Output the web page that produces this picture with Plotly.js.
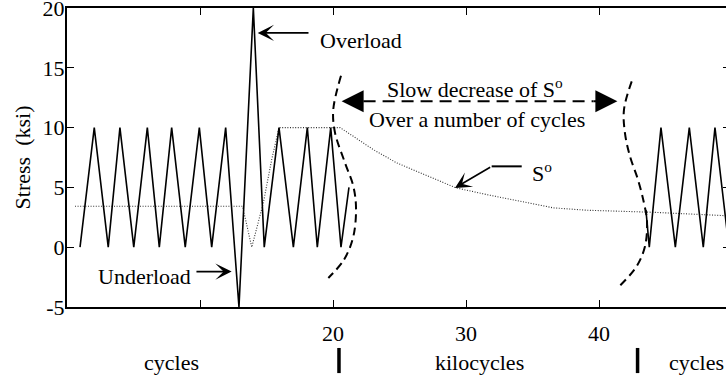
<!DOCTYPE html>
<html>
<head>
<meta charset="utf-8">
<script src="https://cdn.plot.ly/plotly-3.0.1.min.js"></script>
<style>
html, body { margin: 0; padding: 0; overflow: hidden; background: #fff; }
#chart { width: 730px; height: 378px; }
</style>
</head>
<body>
<div id="chart"></div>
<script>
// Stress history (ksi) versus time (cycles / kilocycles)
const loadX = [0.98, 2.05, 3.1, 3.98, 5.02, 6.04, 6.94, 7.87, 8.89, 9.95, 10.88, 11.93, 12.93, 14.01, 14.83, 15.94, 17.02, 18.07, 18.82, 19.83, 20.6, 21.2];
const loadY = [0, 10, 0, 10, 0, 10, 0, 10, 0, 10, 0, 10, -5, 20, 0, 10, 0, 10, 0, 10, 0, 5];

const loadRightX = [43.53, 43.78, 44.66, 45.74, 46.79, 47.84, 48.72, 49.77];
const loadRightY = [3.1, 0, 10, 0, 10, 0, 10, 0];

// Opening stress S°
const openX = [0.6, 13.2, 13.89, 14.76, 15.39, 15.94, 20.0, 20.53, 21.53, 23.03, 24.79, 26.54, 29.25, 31.56, 34.06, 36.56, 39.08, 41.58, 44.08, 49.8];
const openY = [3.42, 3.42, 0, 3.7, 7.32, 10, 10, 10, 9.27, 8.16, 7.05, 6.21, 4.96, 4.4, 3.84, 3.29, 3.09, 3.0, 2.92, 2.62];

// Axis break curves
const breakLeftX = [20.6, 20.02, 20.15, 20.9, 21.53, 21.73, 21.53, 20.83, 19.65];
const breakLeftY = [14.33, 11.5, 9.58, 7.06, 5.09, 3.31, 0.91, -1.04, -2.57];
const breakRightX = [42.46, 41.88, 41.95, 42.33, 42.93, 43.38, 43.61, 43.46, 42.83, 41.58];
const breakRightY = [13.87, 11.51, 9.55, 7.6, 5.65, 3.7, 2.14, 0.08, -1.6, -3.21];

const yTicks = [-5, 0, 5, 10, 15, 20];
const yTickText = ['-5', '0', '5', '10', '15', '20'];
const xTicks = [10, 20, 30, 40];
const xTickText = ['', '20', '30', '40'];

const FONT = '"Liberation Serif", serif';

const traces = [
  { x: openX, y: openY, mode: 'lines', line: { color: '#333', width: 1.1, dash: '1px,1.6px' }, hoverinfo: 'skip' },
  { x: loadX, y: loadY, mode: 'lines', line: { color: '#000', width: 1.6 }, hoverinfo: 'skip' },
  { x: loadRightX, y: loadRightY, mode: 'lines', line: { color: '#000', width: 1.6 }, hoverinfo: 'skip' },
  { x: breakLeftX, y: breakLeftY, mode: 'lines', line: { color: '#000', width: 2, dash: '8px,5px', shape: 'spline' }, hoverinfo: 'skip' },
  { x: breakRightX, y: breakRightY, mode: 'lines', line: { color: '#000', width: 2, dash: '8px,5px', shape: 'spline' }, hoverinfo: 'skip' }
];

const txt = (text, x, y, xanchor, extra) => Object.assign({
  text: text, x: x, y: y, xref: 'x', yref: 'y', xanchor: xanchor || 'center', yanchor: 'middle',
  showarrow: false, font: { family: FONT, size: 22, color: '#000' }
}, extra || {});

const arrow = (tipX, tipY, tailX, tailY, head, size, width) => ({
  text: '', x: tipX, y: tipY, ax: tailX, ay: tailY, axref: 'x', ayref: 'y', xref: 'x', yref: 'y',
  showarrow: true, arrowhead: head, arrowsize: size, arrowwidth: width, arrowcolor: '#000',
  standoff: 0, startstandoff: 0
});

const layout = {
  width: 730, height: 378,
  margin: { l: 67, r: 0, t: 8, b: 71 },
  paper_bgcolor: '#fff', plot_bgcolor: '#fff',
  showlegend: false,
  font: { family: FONT, size: 22, color: '#000' },
  xaxis: {
    range: [0, 49.85], tickvals: xTicks, ticktext: xTickText,
    ticks: 'inside', ticklen: 7, tickwidth: 1, tickcolor: '#000',
    showline: true, linewidth: 2, linecolor: '#000', mirror: 'ticks',
    showgrid: false, zeroline: false, ticklabelstandoff: 6,
    tickfont: { family: FONT, size: 22, color: '#000' }
  },
  yaxis: {
    range: [-5, 20], tickvals: yTicks, ticktext: yTickText,
    ticks: 'inside', ticklen: 7, tickwidth: 1, tickcolor: '#000',
    showline: true, linewidth: 2, linecolor: '#000', mirror: 'ticks',
    showgrid: false, zeroline: false, ticklabeloverflow: 'allow',
    ticklabelstandoff: -4,
    tickfont: { family: FONT, size: 22, color: '#000' },
    title: { text: 'Stress\u00A0\u00A0(ksi)', font: { family: FONT, size: 22, color: '#000' }, standoff: 6 }
  },
  shapes: [
    { type: 'line', xref: 'x', yref: 'y', x0: 22.3, x1: 39.6, y0: 12.2, y1: 12.2,
      line: { color: '#000', width: 2, dash: '12px,7px' } },
    { type: 'line', xref: 'x', yref: 'y', x0: 31.93, x1: 34.19, y0: 6.76, y1: 6.76,
      line: { color: '#000', width: 2 } },
    { type: 'line', xref: 'x', yref: 'paper', x0: 20.45, x1: 20.45, y0: -0.137, y1: -0.221,
      line: { color: '#000', width: 3.5 } },
    { type: 'line', xref: 'x', yref: 'paper', x0: 42.9, x1: 42.9, y0: -0.137, y1: -0.221,
      line: { color: '#000', width: 3.5 } }
  ],
  annotations: [
    txt('Overload', 18.87, 17.27, 'left'),
    arrow(14.34, 17.92, 18.27, 17.92, 3, 1.7, 1.6),
    txt('Underload', 9.47, -2.46, 'right'),
    arrow(12.38, -2.04, 9.62, -2.04, 3, 1.7, 1.6),
    txt('Slow decrease of S<sup>o</sup>', 30.68, 13.3, 'center'),
    txt('Over a number of cycles', 30.8, 10.67, 'center'),
    arrow(20.65, 12.2, 22.4, 12.2, 2, 2.2, 2),
    arrow(41.38, 12.2, 39.5, 12.2, 2, 2.2, 2),
    txt('S<sup>o</sup>', 35.7, 6.3, 'center'),
    arrow(29.17, 4.96, 31.93, 6.76, 3, 1.7, 1.6),
    txt('cycles', 7.87, -0.187, 'center', { yref: 'paper' }),
    txt('kilocycles', 31.05, -0.187, 'center', { yref: 'paper' }),
    txt('cycles', 47.3, -0.187, 'center', { yref: 'paper' })
  ]
};

Plotly.newPlot('chart', traces, layout, { displayModeBar: false, staticPlot: true });
</script>
</body>
</html>
